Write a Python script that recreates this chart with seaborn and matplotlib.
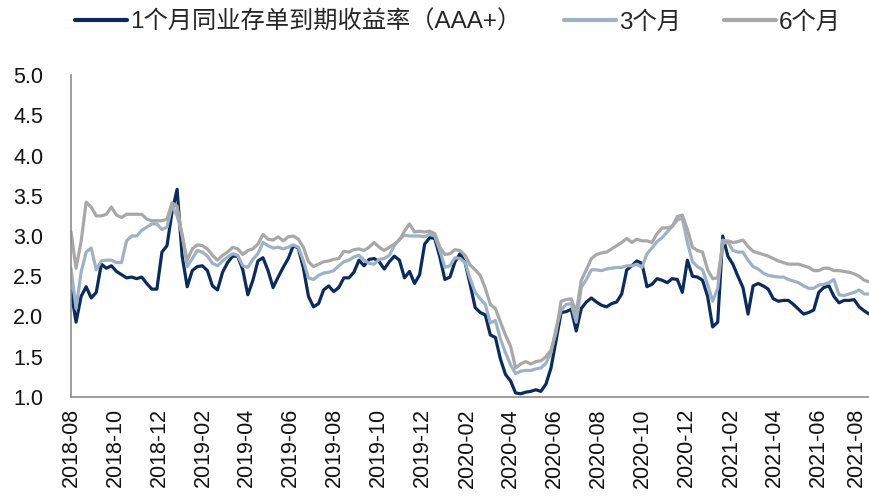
import matplotlib
matplotlib.use("Agg")
import matplotlib.pyplot as plt
import matplotlib.dates as mdates
import matplotlib.transforms as mtransforms
import pandas as pd
import seaborn as sns

# ---- data (weekly readings from the chart) ----
start_date = "2018-08-01"
n_weeks = 159
series_names = ["1个月同业存单到期收益率（AAA+）", "3个月", "6个月"]
series_colors = ["#0A2B5C", "#9DB2C7", "#A8A8A8"]
yticks = [1.0, 1.5, 2.0, 2.5, 3.0, 3.5, 4.0, 4.5, 5.0]

r1m = [
    2.32, 1.93, 2.25, 2.37, 2.23, 2.30, 2.65, 2.60, 2.63, 2.56,
    2.52, 2.48, 2.49, 2.47, 2.49, 2.41, 2.34, 2.34, 2.80, 2.88,
    3.30, 3.58, 2.75, 2.37, 2.57, 2.62, 2.63, 2.57, 2.38, 2.33,
    2.55, 2.67, 2.75, 2.75, 2.58, 2.27, 2.45, 2.69, 2.73, 2.57,
    2.36, 2.49, 2.61, 2.72, 2.88, 2.85, 2.60, 2.25, 2.12, 2.16,
    2.33, 2.38, 2.31, 2.36, 2.48, 2.48, 2.55, 2.70, 2.63, 2.71,
    2.72, 2.68, 2.59, 2.68, 2.75, 2.70, 2.48, 2.56, 2.41, 2.52,
    2.90, 2.98, 2.97, 2.74, 2.46, 2.49, 2.68, 2.78, 2.67, 2.40,
    2.11, 2.05, 2.02, 1.77, 1.74, 1.47, 1.28, 1.20, 1.05, 1.04,
    1.06, 1.07, 1.09, 1.07, 1.16, 1.36, 1.70, 2.05, 2.06, 2.09,
    1.82, 2.10, 2.18, 2.23, 2.18, 2.14, 2.12, 2.16, 2.18, 2.28,
    2.58, 2.63, 2.69, 2.66, 2.37, 2.40, 2.47, 2.45, 2.42, 2.47,
    2.46, 2.30, 2.70, 2.50, 2.49, 2.45, 2.25, 1.87, 1.93, 3.00,
    2.75, 2.65, 2.50, 2.36, 2.03, 2.38, 2.41, 2.38, 2.34, 2.22,
    2.19, 2.20, 2.20, 2.15, 2.09, 2.03, 2.05, 2.08, 2.30, 2.36,
    2.38, 2.25, 2.17, 2.20, 2.20, 2.21, 2.12, 2.07, 2.03,
]

r3m = [
    2.60, 2.10, 2.55, 2.80, 2.85, 2.58, 2.69, 2.70, 2.70, 2.67,
    2.67, 2.94, 3.00, 3.00, 3.07, 3.11, 3.15, 3.15, 3.08, 3.11,
    3.38, 3.25, 3.02, 2.62, 2.72, 2.82, 2.80, 2.75, 2.66, 2.63,
    2.69, 2.74, 2.78, 2.76, 2.63, 2.61, 2.71, 2.78, 2.92, 2.88,
    2.85, 2.86, 2.84, 2.86, 2.89, 2.86, 2.69, 2.48, 2.46, 2.51,
    2.54, 2.55, 2.57, 2.63, 2.68, 2.70, 2.74, 2.76, 2.70, 2.66,
    2.65, 2.71, 2.72, 2.76, 2.88, 2.96, 3.01, 3.00, 3.00, 3.00,
    2.99, 3.02, 3.00, 2.82, 2.61, 2.63, 2.73, 2.72, 2.67, 2.47,
    2.30, 2.22, 2.15, 1.92, 1.95, 1.72, 1.55, 1.40, 1.29, 1.32,
    1.33, 1.33, 1.35, 1.36, 1.42, 1.55, 1.85, 2.08, 2.15, 2.16,
    1.93, 2.36, 2.46, 2.58, 2.58, 2.57, 2.59, 2.60, 2.61, 2.61,
    2.63, 2.63, 2.65, 2.61, 2.78, 2.85, 2.93, 2.98, 3.05, 3.12,
    3.20, 3.22, 2.92, 2.68, 2.62, 2.58, 2.40, 2.19, 2.35, 2.95,
    2.93, 2.82, 2.80, 2.80, 2.70, 2.62, 2.59, 2.54, 2.51, 2.50,
    2.49, 2.49, 2.46, 2.44, 2.42, 2.38, 2.35, 2.35, 2.39, 2.40,
    2.42, 2.46, 2.27, 2.26, 2.28, 2.30, 2.33, 2.28, 2.28,
]

r6m = [
    3.05, 2.60, 2.93, 3.42, 3.36, 3.25, 3.25, 3.27, 3.36, 3.26,
    3.23, 3.27, 3.27, 3.27, 3.27, 3.21, 3.19, 3.19, 3.19, 3.21,
    3.41, 3.37, 3.00, 2.70, 2.84, 2.89, 2.88, 2.84, 2.76, 2.70,
    2.76, 2.80, 2.86, 2.84, 2.77, 2.82, 2.84, 2.90, 3.02, 2.96,
    2.95, 2.99, 2.94, 2.99, 3.00, 2.96, 2.86, 2.68, 2.62, 2.65,
    2.68, 2.69, 2.71, 2.72, 2.81, 2.80, 2.83, 2.84, 2.82, 2.86,
    2.92, 2.86, 2.82, 2.86, 2.90, 2.95, 3.06, 3.15, 3.05, 3.06,
    3.05, 3.06, 3.03, 2.86, 2.77, 2.78, 2.83, 2.82, 2.76, 2.64,
    2.58, 2.51, 2.35, 2.15, 2.10, 1.93, 1.77, 1.63, 1.36, 1.41,
    1.44, 1.41, 1.44, 1.45, 1.50, 1.58, 1.80, 2.19, 2.21, 2.22,
    2.05, 2.45, 2.58, 2.72, 2.77, 2.79, 2.80, 2.84, 2.88, 2.92,
    2.97, 2.92, 2.96, 2.94, 2.94, 2.92, 3.03, 3.10, 3.10, 3.12,
    3.24, 3.26, 3.08, 2.86, 2.82, 2.80, 2.58, 2.47, 2.48, 2.90,
    2.94, 2.92, 2.93, 2.95, 2.87, 2.81, 2.79, 2.77, 2.75, 2.72,
    2.69, 2.67, 2.65, 2.65, 2.65, 2.63, 2.61, 2.57, 2.57, 2.60,
    2.60, 2.57, 2.57, 2.56, 2.55, 2.53, 2.50, 2.45, 2.43,
]

dates = pd.date_range(start_date, periods=n_weeks, freq="7D")

df = pd.concat(
    [
        pd.DataFrame({"date": dates, "value": vals, "series": name})
        for name, vals in zip(series_names, [r1m, r3m, r6m])
    ],
    ignore_index=True,
)

# ---- style ----
sns.set_theme(style="white")
plt.rcParams["font.family"] = ["Liberation Sans", "Noto Sans CJK SC"]
plt.rcParams["axes.unicode_minus"] = False

fig = plt.figure(figsize=(8.7, 5.0), dpi=100)
ax = fig.add_axes([71 / 870, 103 / 500, 799 / 870, 322 / 500])

sns.lineplot(
    data=df, x="date", y="value", hue="series",
    hue_order=series_names,
    palette=dict(zip(series_names, series_colors)),
    linewidth=2.3, estimator=None, legend=False, ax=ax,
)

ax.set_xlim(pd.Timestamp("2018-08-01"), pd.Timestamp("2021-08-12"))
ax.set_ylim(1.0, 5.0)
ax.set_yticks(yticks)
ax.set_yticklabels([f"{v:.1f}" for v in yticks])
ax.set_xlabel("")
ax.set_ylabel("")

ax.xaxis.set_major_locator(mdates.MonthLocator(bymonth=[2, 4, 6, 8, 10, 12], bymonthday=1))
ax.xaxis.set_major_formatter(mdates.DateFormatter("%Y-%m"))

for s in ["top", "right"]:
    ax.spines[s].set_visible(False)
for s in ["left", "bottom"]:
    ax.spines[s].set_color("#8C8C8C")
    ax.spines[s].set_linewidth(1.2)

ax.tick_params(axis="y", direction="out", length=6, width=1.1, color="#8C8C8C",
               labelsize=15.5, pad=14, labelcolor="#111111")
ax.tick_params(axis="x", direction="out", length=5, width=1.1, color="#8C8C8C",
               labelsize=15.5, pad=3, labelcolor="#111111")
ax.grid(False)

fig.canvas.draw()
xlabels = ax.get_xticklabels()
for lab in xlabels:
    lab.set_rotation(90)
    lab.set_ha("center")
# nudge the last label left so it stays inside the figure
last = [lab for lab in xlabels if lab.get_text()][-1]
last.set_transform(last.get_transform() +
                   mtransforms.ScaledTranslation(-6 / 100, 0, fig.dpi_scale_trans))

handles = ax.get_lines()[:3]
leg = fig.legend(
    handles, series_names,
    loc="center left", bbox_to_anchor=(75 / 870, 1 - 22 / 500),
    ncol=3, frameon=False, fontsize=17.5,
    handlelength=2.15, handletextpad=0.12, columnspacing=1.75,
    borderpad=0, borderaxespad=0,
)
for ln in leg.get_lines():
    ln.set_linewidth(3.0)

fig.savefig("out.png", dpi=100)
